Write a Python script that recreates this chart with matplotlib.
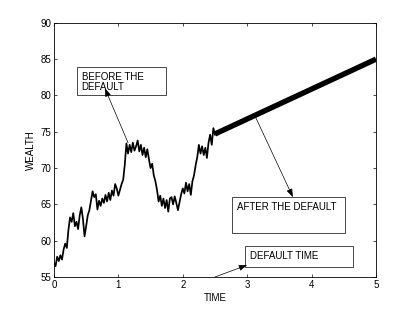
import matplotlib
matplotlib.use("Agg")
import matplotlib.pyplot as plt
from matplotlib.patches import Rectangle

plt.rcParams['font.family'] = ['Liberation Sans', 'DejaVu Sans']

# wealth path before default
time_before = [i * 0.025 for i in range(101)]
wealth_before = [
    57.0, 56.5, 57.8, 57.2, 58.0, 57.4, 58.8, 59.6, 59.0, 61.5,
    63.2, 62.6, 63.8, 62.0, 62.6, 61.6, 63.5, 64.6, 63.0, 60.6,
    62.0, 63.5, 64.2, 65.5, 66.8, 66.0, 66.4, 64.3, 65.5, 64.8,
    65.8, 65.2, 66.3, 65.4, 66.6, 65.6, 66.9, 66.2, 67.8, 67.2,
    66.2, 67.0, 67.8, 68.4, 70.5, 73.4, 72.0, 73.2, 72.2, 73.5,
    72.4, 73.0, 73.8, 72.3, 73.2, 71.8, 72.8, 71.5, 72.6, 71.2,
    70.0, 70.6, 69.0, 68.2, 67.0, 65.4, 66.2, 64.8, 65.8, 64.5,
    65.6, 64.0, 65.8, 66.0, 65.0, 66.1, 65.2, 64.2, 65.3, 66.4,
    67.2, 66.5, 68.0, 66.8, 67.8, 66.3, 68.2, 69.0, 70.4, 71.5,
    73.2, 72.0, 73.0, 71.8, 72.8, 71.4, 73.5, 74.6, 73.2, 75.5,
    74.6,
]

# wealth after default (straight line)
time_after = [2.5, 5.0]
wealth_after = [74.7, 85.0]

x_ticks = [0, 1, 2, 3, 4, 5]
y_ticks = [55, 60, 65, 70, 75, 80, 85, 90]

fig = plt.figure(figsize=(4.15, 3.13), dpi=100)
ax = fig.add_axes([0.13, 0.115, 0.776, 0.812])

ax.plot(time_before, wealth_before, color='black', lw=1.25)
ax.plot(time_after, wealth_after, color='black', lw=3.9, solid_capstyle='butt')

ax.set_xlim(0, 5)
ax.set_ylim(55, 90)
ax.set_xticks(x_ticks)
ax.set_yticks(y_ticks)
ax.tick_params(direction='in', top=True, right=True, labelsize=7, length=2.5, width=0.5, pad=2)
for s in ax.spines.values():
    s.set_linewidth(0.6)
ax.set_xlabel('TIME', fontsize=7, labelpad=2)
ax.set_ylabel('WEALTH', fontsize=7, labelpad=3)

# annotation boxes
boxes = [
    ((0.357, 80.0), 1.382, 3.93, ['BEFORE THE', 'DEFAULT'], (0.43, 83.3)),
    ((2.764, 61.06), 1.755, 4.96, ['AFTER THE DEFAULT'], (2.84, 65.3)),
    ((2.966, 56.38), 1.677, 2.89, ['DEFAULT TIME'], (3.04, 58.65)),
]
for (xy, w, h, lines, txy) in boxes:
    ax.add_patch(Rectangle(xy, w, h, facecolor='white', edgecolor='black', lw=0.5, zorder=3))
    ax.text(txy[0], txy[1], '\n'.join(lines), fontsize=7, va='top', ha='left',
            linespacing=1.1, zorder=4)

arrows = [
    ((1.15, 73.5), (0.79, 81.0)),
    ((3.12, 77.2), (3.71, 66.0)),
    ((2.5, 55.0), (3.0, 56.65)),
]
for tail, head in arrows:
    ax.annotate('', xy=head, xytext=tail,
                arrowprops=dict(arrowstyle='-|>,head_length=0.5,head_width=0.18',
                                color='black', lw=0.5, shrinkA=0, shrinkB=0),
                zorder=5, annotation_clip=False)

fig.savefig('out.png', dpi=100)
